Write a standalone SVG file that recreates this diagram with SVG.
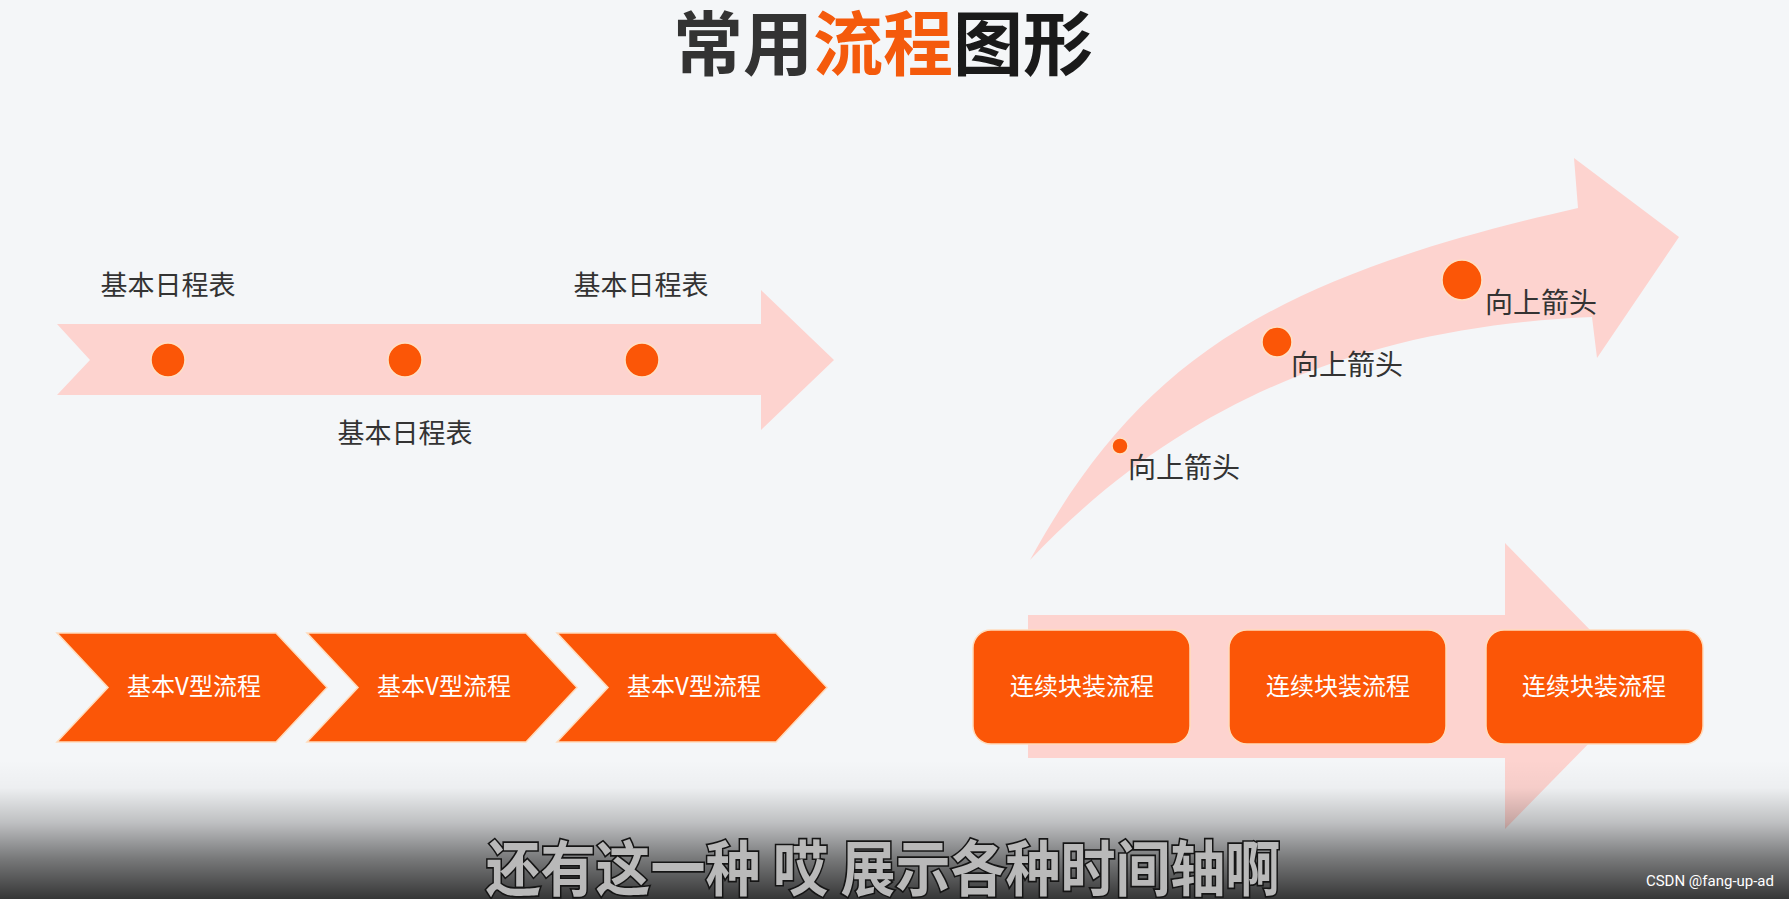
<svg xmlns="http://www.w3.org/2000/svg" width="1789" height="899" viewBox="0 0 1789 899">
  <defs>
    <linearGradient id="shade" x1="0" y1="0" x2="0" y2="1">
      <stop offset="0" stop-color="#000" stop-opacity="0"/>
      <stop offset="0.2" stop-color="#000" stop-opacity="0.03"/>
      <stop offset="0.45" stop-color="#000" stop-opacity="0.22"/>
      <stop offset="0.7" stop-color="#000" stop-opacity="0.5"/>
      <stop offset="1" stop-color="#000" stop-opacity="0.78"/>
    </linearGradient>
  </defs>
  <style>
    .bg { fill: #f4f6f8; }
    .pink { fill: #fdd3cf; }
    .orange { fill: #fb5607; stroke: #ffdcbc; stroke-width: 1.5; }
    .dot { fill: #fb5607; stroke: #ffe0c4; stroke-width: 1.5; }
    .cjk { font-family: "Noto Sans CJK SC", "Noto Sans", sans-serif; }
    .label { font-size: 27px; fill: #333333; }
    .label2 { font-size: 28px; fill: #333333; }
    .white { font-size: 24px; fill: #ffffff; text-anchor: middle; }
    .title { font-size: 70px; font-weight: 700; text-anchor: middle; }
    .sub { font-size: 55px; font-weight: 700; fill: #b9b9b9; stroke: #151515; stroke-width: 3; paint-order: stroke; text-anchor: middle; }
  </style>

  <rect class="bg" x="0" y="0" width="1789" height="899"/>

  <!-- Title -->
  <g id="title">
    <text class="cjk title" x="883" y="70"><tspan fill="#333333">常用</tspan><tspan fill="#f45a0c">流程</tspan><tspan fill="#1a1a1a">图形</tspan></text>
  </g>

  <!-- Connectors / arrows -->
  <g id="connectors">
    <polygon class="pink" points="57,324 761,324 761,290 834,360 761,430 761,395 57,395 90,360"/>
    <path class="pink" d="M1030,560 C1140,360 1270,278 1578,208 L1574,158 L1679,237 L1597,358 L1592,317 C1400,325 1200,380 1030,560 Z"/>
    <polygon class="pink" points="1028,615 1505,615 1505,543 1645,686 1505,829 1505,758 1028,758"/>
  </g>

  <!-- Timeline nodes -->
  <g id="timeline-node-1">
    <circle class="dot" cx="168" cy="360" r="17"/>
    <text class="cjk label" x="168" y="295" text-anchor="middle">基本日程表</text>
  </g>
  <g id="timeline-node-2">
    <circle class="dot" cx="405" cy="360" r="17"/>
    <text class="cjk label" x="405" y="443" text-anchor="middle">基本日程表</text>
  </g>
  <g id="timeline-node-3">
    <circle class="dot" cx="642" cy="360" r="17"/>
    <text class="cjk label" x="641" y="295" text-anchor="middle">基本日程表</text>
  </g>

  <!-- Upward arrow nodes -->
  <g id="up-node-1">
    <circle class="dot" cx="1120" cy="446" r="8"/>
    <text class="cjk label2" x="1128" y="478">向上箭头</text>
  </g>
  <g id="up-node-2">
    <circle class="dot" cx="1277" cy="342" r="15"/>
    <text class="cjk label2" x="1291" y="375">向上箭头</text>
  </g>
  <g id="up-node-3">
    <circle class="dot" cx="1462" cy="280" r="20"/>
    <text class="cjk label2" x="1485" y="313">向上箭头</text>
  </g>

  <!-- V-shaped process -->
  <g id="v-step-1">
    <polygon class="orange" points="57,633 276,633 327,687.5 276,742 57,742 108,687.5"/>
    <text class="cjk white" x="194" y="695">基本V型流程</text>
  </g>
  <g id="v-step-2">
    <polygon class="orange" points="307,633 526,633 577,687.5 526,742 307,742 358,687.5"/>
    <text class="cjk white" x="444" y="695">基本V型流程</text>
  </g>
  <g id="v-step-3">
    <polygon class="orange" points="557,633 776,633 827,687.5 776,742 557,742 608,687.5"/>
    <text class="cjk white" x="694" y="695">基本V型流程</text>
  </g>

  <!-- Continuous block process -->
  <g id="block-1">
    <rect class="orange" x="973" y="630" width="217" height="114" rx="18"/>
    <text class="cjk white" x="1082" y="695">连续块装流程</text>
  </g>
  <g id="block-2">
    <rect class="orange" x="1229" y="630" width="217" height="114" rx="18"/>
    <text class="cjk white" x="1338" y="695">连续块装流程</text>
  </g>
  <g id="block-3">
    <rect class="orange" x="1486" y="630" width="217" height="114" rx="18"/>
    <text class="cjk white" x="1594" y="695">连续块装流程</text>
  </g>

  <!-- bottom shading (video overlay) -->
  <rect x="0" y="760" width="1789" height="139" fill="url(#shade)"/>

  <!-- subtitle -->
  <g id="subtitle">
    <text class="cjk sub" transform="translate(883,891) scale(1,1.1)" x="0" y="0">还有这一种 哎 展示各种时间轴啊</text>
  </g>

  <!-- watermark -->
  <g id="watermark">
    <text x="1774" y="886" font-family="Roboto, 'Liberation Sans', sans-serif" font-size="15" fill="#ffffff" text-anchor="end">CSDN @fang-up-ad</text>
  </g>
</svg>
